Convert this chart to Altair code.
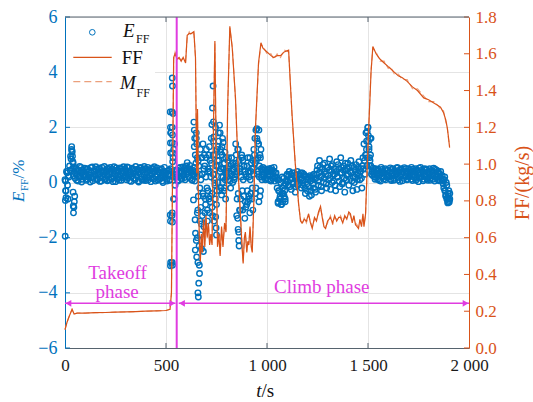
import altair as alt
import pandas as pd

# ---------------- data ----------------
E_STEP = 5  # s between successive E_FF samples in each band list
E_TAKEOFF_A = [  # t = 0 .. 595 s
    0.10, -0.30, 0.35, -0.60, 0.20, 0.45, 0.85, 1.10, 0.70, 0.40, 0.15, 0.50, 0.30, 0.05, 0.42, 0.22, 0.55, 0.12, 0.38, 0.27,
    0.33, 0.08, 0.50, 0.20, 0.44, 0.02, 0.35, 0.56, 0.15, 0.40, 0.25, 0.48, 0.10, 0.30, 0.52, 0.18, 0.05, 0.42, 0.28, 0.58,
    0.14, 0.38, 0.06, 0.47, 0.30, 0.55, 0.12, 0.35, 0.22, 0.45, 0.03, 0.53, 0.26, 0.40, 0.18, 0.50, 0.08, 0.33, 0.57, 0.20,
    0.43, 0.10, 0.30, 0.54, 0.06, 0.38, 0.22, 0.48, 0.15, 0.35, 0.58, 0.25, 0.45, 0.02, 0.32, 0.52, 0.12, 0.40, 0.27, 0.50,
    0.07, 0.35, 0.55, 0.18, 0.44, 0.03, 0.30, 0.50, 0.12, 0.40, 0.22, 0.53, 0.08, 0.36, 0.46, 0.15, 0.28, 0.00, 0.40, 0.20,
    0.35, 0.05, 0.25, 0.45, 0.10, 1.80, -1.20, 2.50, 0.30, -0.10, 0.20, 0.45, 0.05, 0.35, 0.55, 0.15, 0.40, 0.25, 0.50, 0.10,
]
E_TAKEOFF_B = [  # t = 2.5 .. 597.5 s
    0.05, 0.40, -0.10, 0.25, 0.60, 0.95, 1.20, 0.50, 0.25, 0.55, 0.32, 0.08, 0.45, 0.20, 0.58, 0.35, 0.02, 0.46, 0.24, 0.52,
    0.22, 0.47, 0.12, 0.38, 0.27, 0.54, 0.18, 0.06, 0.43, 0.30, 0.57, 0.14, 0.36, 0.48, 0.04, 0.40, 0.55, 0.20, 0.33, 0.10,
    0.45, 0.25, 0.52, 0.10, 0.40, 0.18, 0.48, 0.03, 0.57, 0.30, 0.37, 0.14, 0.44, 0.08, 0.53, 0.26, 0.42, 0.16, 0.36, 0.50,
    0.22, 0.56, 0.16, 0.40, 0.28, 0.04, 0.52, 0.34, 0.44, 0.10, 0.26, 0.48, 0.06, 0.38, 0.55, 0.20, 0.46, 0.08, 0.58, 0.14,
    0.48, 0.20, 0.10, 0.42, 0.25, 0.52, 0.16, 0.38, 0.57, 0.05, 0.46, 0.30, 0.40, 0.12, 0.22, 0.50, 0.06, 0.33, 0.55, 0.27,
    0.12, 0.42, 0.30, 0.08, 0.50, 0.40, 0.20, -0.60, 1.40, 0.45, 0.30, 0.08, 0.52, 0.22, 0.40, 0.12, 0.56, 0.30, 0.18, 0.45,
]
E_CLIMB_A = [  # t = 600 .. 1905 s
    0.60, 0.72, 0.38, 0.50, 0.15, 0.42, 0.08, 0.30, 0.55, 0.22, 1.60, -2.00, 0.80, -3.00, 1.20, -1.50, 0.30, -2.50, 1.00, -0.60,
    0.90, -1.00, 0.40, 1.30, -0.50, 0.70, -1.20, 1.50, 0.10, 2.00, -0.80, 0.60, 1.80, -0.30, 1.10, 0.20, 1.60, 0.50, -0.20, 0.90,
    0.40, 0.80, 0.10, 0.60, 0.30, 0.90, 0.00, 0.50, 0.20, 0.70, -1.20, 1.20, -1.80, 0.40, -0.60, 1.00, 0.80, -0.50, 0.40, -0.90,
    0.60, -0.70, 0.20, 0.90, -0.40, 0.50, -1.00, 0.30, 0.70, -0.20, 1.60, 0.40, 1.90, -0.50, 1.20, 0.10, 0.55, 0.30, 0.45, 0.15,
    0.40, 0.12, 0.50, 0.25, 0.05, 0.45, 0.30, 0.55, 0.18, 0.35, -0.20, -0.70, 0.10, -0.50, -0.80, 0.20, -0.40, -0.10, -0.60, 0.05,
    0.30, -0.10, 0.40, 0.10, -0.25, 0.35, 0.00, 0.25, -0.35, 0.15, 0.40, -0.05, 0.30, 0.10, -0.20, 0.35, 0.05, 0.25, -0.40, 0.10,
    -0.30, 0.20, -0.50, 0.05, -0.45, 0.25, -0.20, 0.10, -0.35, 0.30, 0.60, -0.10, 0.80, 0.20, -0.30, 0.50, 0.00, 0.70, 0.30, -0.20,
    0.55, 0.10, 0.85, -0.25, 0.40, 0.65, 0.05, 0.30, -0.30, 0.75, 0.20, 0.50, -0.15, 0.90, 0.35, 0.00, 0.60, -0.35, 0.45, 0.25,
    0.70, -0.10, 0.40, 0.80, 0.05, -0.30, 0.55, 0.20, 0.65, -0.25, 0.35, 0.75, 0.10, 0.50, -0.20, 0.90, 1.40, 0.30, 1.80, 0.60,
    2.00, 1.20, 0.80, 1.60, 0.40, 0.52, 0.30, 0.12, 0.45, 0.25, 0.48, 0.08, 0.35, 0.55, 0.20, 0.40, 0.14, 0.50, 0.30, 0.18,
    0.45, 0.25, 0.53, 0.07, 0.35, 0.50, 0.15, 0.40, 0.30, 0.55, 0.10, 0.45, 0.22, 0.50, 0.06, 0.35, 0.54, 0.25, 0.40, 0.12,
    0.50, 0.20, 0.35, 0.55, 0.07, 0.40, 0.25, 0.50, 0.15, 0.45, 0.03, 0.35, 0.55, 0.20, 0.40, 0.12, 0.50, 0.25, 0.45, 0.08,
    0.35, 0.50, 0.15, 0.40, 0.25, 0.52, 0.05, 0.30, 0.45, 0.10, 0.35, 0.20, 0.40, 0.05, 0.10, -0.20, 0.20, -0.45, -0.10, -0.70,
    -0.30, -0.60,
]
E_CLIMB_B = [  # t = 602.5 .. 1902.5 s
    0.30, 0.48, 0.20, 0.62, 0.35, 0.10, 0.45, 0.25, 0.05, 0.40, 0.20, -1.00, 0.60, -0.20, 0.10, 0.90, -0.40, 0.50, -1.10, 0.20,
    -0.20, 0.50, -0.60, 0.80, 0.20, -0.40, 1.00, 0.30, -0.10, 0.60, 1.20, 0.00, 0.80, 0.40, -0.20, 1.30, 0.20, 0.70, 0.10, 0.45,
    0.20, 0.50, 0.35, 0.05, 0.65, 0.25, 0.45, 0.10, 0.55, 0.30, 0.40, -0.40, 0.80, -1.00, 0.20, -0.30, 0.10, 0.60, -0.70, 0.20,
    -0.30, 0.40, -0.60, 0.10, 0.70, -0.20, 0.50, 1.00, -0.40, 0.80, 0.30, 1.40, 0.60, 0.90, 0.20, 0.45, 0.25, 0.50, 0.10, 0.35,
    0.25, 0.45, 0.08, 0.38, 0.52, 0.15, 0.42, 0.05, 0.33, 0.20, 0.10, -0.30, -0.60, 0.00, -0.40, -0.70, 0.15, -0.30, -0.05, 0.25,
    0.05, 0.25, -0.15, 0.30, 0.15, -0.05, 0.35, -0.15, 0.20, 0.05, -0.10, 0.25, 0.00, 0.35, 0.15, -0.10, 0.30, -0.20, 0.20, -0.05,
    0.10, -0.15, 0.25, -0.30, 0.15, -0.05, 0.30, -0.25, 0.15, 0.45, 0.05, 0.35, 0.55, -0.15, 0.25, 0.65, 0.15, 0.40, -0.05, 0.55,
    0.25, 0.45, 0.15, 0.60, 0.00, 0.30, 0.50, -0.10, 0.40, 0.20, 0.65, 0.05, 0.35, 0.55, -0.05, 0.45, 0.15, 0.70, 0.10, 0.50,
    0.30, 0.55, 0.15, 0.35, 0.60, 0.20, 0.00, 0.45, 0.30, 0.10, 0.55, 0.25, 0.40, 0.15, 0.60, 0.50, 0.80, 1.00, 1.20, 0.90,
    1.50, 0.60, 1.00, 0.30, 0.25, 0.40, 0.20, 0.50, 0.33, 0.12, 0.42, 0.28, 0.05, 0.38, 0.48, 0.22, 0.34, 0.10, 0.44, 0.27,
    0.20, 0.38, 0.12, 0.48, 0.24, 0.08, 0.42, 0.28, 0.52, 0.18, 0.36, 0.04, 0.46, 0.30, 0.40, 0.15, 0.22, 0.50, 0.10, 0.34,
    0.26, 0.44, 0.12, 0.32, 0.48, 0.20, 0.38, 0.08, 0.42, 0.28, 0.52, 0.16, 0.30, 0.45, 0.06, 0.36, 0.22, 0.48, 0.14, 0.38,
    0.22, 0.08, 0.44, 0.28, 0.12, 0.36, 0.48, 0.18, 0.26, 0.40, 0.06, 0.30, 0.15, 0.25, -0.05, 0.10, -0.30, 0.00, -0.55, -0.40,
    -0.65,
]
E_EXTRA = [  # scattered E_FF points (t, E)
    (1, -1.95), (2, -0.65), (3, -0.30), (5, -0.55), (33, 1.30), (35, 1.15), (37, 0.95), (39, 0.75),
    (41, -0.85), (42, -1.10), (44, -0.90), (46, -0.70), (48, -0.50), (40, -0.35),
    (521, 2.56), (522, 2.00), (523, 1.80), (522, 1.43), (523, 1.07), (521, -1.18), (522, -1.40), (523, -2.90), (522, -3.02),
    (531, 3.79), (532, 3.50), (530, 2.56), (531, 2.00), (532, 1.72), (531, 1.43), (532, 1.07), (533, 0.75),
    (531, -1.10), (532, -1.43), (531, -2.90), (532, -3.00), (535, 0.90), (538, 1.20), (540, -0.60),
    (638, 2.19), (640, 1.90), (642, 1.60), (640, 1.30), (645, 1.00), (648, 0.70), (650, 1.80), (652, 1.40), (655, 0.90),
    (636, -0.63), (644, -1.35), (646, -1.84), (650, -2.10), (645, -2.45), (652, -2.70), (658, -2.90), (666, -3.30),
    (662, -3.65), (658, -4.00), (660, -4.15), (664, -2.30), (670, -1.90), (668, -1.40), (672, -0.90), (676, -2.40),
    (680, -1.20), (684, -0.50), (688, -1.60), (692, 0.60), (696, -0.80), (700, 1.20), (676, 0.90), (683, 1.40),
    (660, -0.50), (655, -1.10), (666, 0.30),
    (705, -1.40), (708, -0.30), (712, 1.00), (715, -1.10), (718, 0.40), (720, -0.70), (724, 1.60), (727, 2.10),
    (730, 2.70), (733, 3.50), (735, 2.20), (737, 1.65), (740, 1.00), (742, -0.02), (744, -0.60), (746, -1.25),
    (748, -1.65), (750, -1.90), (752, -0.30), (755, 0.80), (758, 1.30), (733, 0.30), (728, -0.90), (738, -1.40),
    (762, 1.50), (765, 2.08), (768, 1.80), (770, 1.20), (772, 0.50), (775, -0.45), (778, 1.00), (780, 0.00),
    (783, 1.45), (786, -0.30), (789, 0.70), (792, 1.10), (795, -0.60), (798, 0.30),
    (810, 0.90), (820, -0.20), (830, 0.70),
    (845, 1.40), (847, 1.00), (850, 0.60), (852, -0.60), (855, -1.30), (857, -1.70), (860, -2.10), (862, -2.30),
    (858, 1.20), (864, -1.00), (868, 0.50),
    (875, 0.90), (880, -1.00), (885, 0.60), (890, -1.30), (895, 0.30), (900, -0.80), (905, 0.90), (910, -0.50),
    (915, -1.10), (920, 0.40), (925, -0.60), (930, 0.80),
    (935, 1.20), (940, 1.60), (945, 1.90), (950, 1.95), (952, 1.50), (955, 0.90), (958, 1.40), (960, -0.70),
    (962, 0.20), (965, 1.00), (968, -0.30), (972, 0.50),
    (1055, -0.75), (1060, -0.30), (1065, -0.60), (1072, -0.80), (1078, -0.20), (1085, -0.50), (1090, -0.70),
    (1490, 1.00), (1493, 1.50), (1496, 1.85), (1499, 2.00), (1502, 1.70), (1505, 1.30), (1508, 0.90), (1511, 1.60), (1514, 0.60),
    (1880, -0.30), (1885, -0.50), (1890, -0.60), (1895, -0.74), (1898, -0.50), (1902, -0.72), (1905, -0.40),
]
FF_POINTS = [  # (t, FF kg/s)
    (0, 0.10), (10, 0.14), (20, 0.17), (35, 0.21), (45, 0.185), (60, 0.19), (100, 0.19), (150, 0.192), (200, 0.193),
    (250, 0.195), (300, 0.196), (350, 0.198), (400, 0.200), (450, 0.202), (500, 0.204), (520, 0.21), (527, 0.30),
    (533, 1.00), (538, 1.58), (545, 1.60), (555, 1.57), (565, 1.58), (575, 1.56), (585, 1.58), (597, 1.55), (605, 1.70),
    (615, 1.71), (625, 1.71), (638, 1.72), (646, 1.58), (652, 0.95), (656, 1.30), (660, 0.85), (666, 0.55), (670, 0.47),
    (675, 0.62), (680, 0.52), (686, 0.70), (692, 0.55), (698, 0.72), (704, 0.60), (710, 0.68), (716, 0.56), (722, 0.62),
    (728, 0.56), (735, 1.20), (742, 1.67), (748, 1.10), (755, 0.55), (762, 0.62), (768, 0.50), (775, 0.66), (782, 0.55),
    (790, 0.68), (797, 0.63), (805, 1.30), (816, 1.75), (828, 1.63), (844, 1.36), (860, 0.90), (877, 0.54), (882, 0.46),
    (888, 0.60), (893, 0.63), (900, 0.52), (905, 0.58), (910, 0.56), (916, 0.66), (922, 0.55), (927, 0.52), (935, 0.80),
    (943, 1.20), (958, 1.55), (970, 1.66), (980, 1.63), (1000, 1.61), (1020, 1.59), (1033, 1.58), (1050, 1.59),
    (1067, 1.59), (1085, 1.61), (1107, 1.62), (1115, 1.45), (1124, 1.27), (1140, 1.00), (1157, 0.78), (1166, 0.69),
    (1174, 0.68), (1185, 0.70), (1195, 0.69), (1206, 0.73), (1215, 0.68), (1224, 0.65), (1235, 0.71), (1245, 0.69),
    (1255, 0.74), (1265, 0.77), (1275, 0.70), (1282, 0.66), (1290, 0.65), (1300, 0.69), (1314, 0.71), (1325, 0.68),
    (1335, 0.72), (1345, 0.69), (1355, 0.71), (1364, 0.71), (1375, 0.68), (1385, 0.72), (1395, 0.70), (1405, 0.74),
    (1413, 0.73), (1422, 0.68), (1430, 0.72), (1438, 0.67), (1446, 0.66), (1453, 0.65), (1460, 0.70), (1468, 0.66),
    (1475, 0.73), (1480, 0.66), (1488, 0.73), (1500, 1.10), (1515, 1.50), (1524, 1.64), (1540, 1.60), (1560, 1.57),
    (1580, 1.55), (1600, 1.53), (1611, 1.52), (1630, 1.50), (1650, 1.48), (1670, 1.47), (1694, 1.45), (1720, 1.42),
    (1745, 1.40), (1776, 1.36), (1800, 1.35), (1830, 1.33), (1859, 1.31), (1874, 1.28), (1885, 1.24), (1892, 1.20),
    (1898, 1.15), (1904, 1.09),
]
MFF_POINTS = [  # (t, M_FF kg/s)
    (0, 0.10), (10, 0.14), (20, 0.17), (35, 0.21), (45, 0.185), (60, 0.19), (100, 0.19), (150, 0.192), (200, 0.193),
    (250, 0.195), (300, 0.196), (350, 0.198), (400, 0.200), (450, 0.202), (500, 0.204), (520, 0.21), (527, 0.30),
    (533, 1.00), (538, 1.57), (545, 1.61), (555, 1.58), (565, 1.57), (575, 1.57), (585, 1.57), (597, 1.56), (605, 1.69),
    (615, 1.72), (625, 1.70), (638, 1.71), (646, 1.58), (652, 0.96), (656, 1.28), (660, 0.86), (666, 0.55), (670, 0.48),
    (675, 0.61), (680, 0.53), (686, 0.69), (692, 0.56), (698, 0.71), (704, 0.61), (710, 0.67), (716, 0.57), (722, 0.61),
    (728, 0.57), (735, 1.19), (742, 1.66), (748, 1.11), (755, 0.56), (762, 0.61), (768, 0.51), (775, 0.65), (782, 0.56),
    (790, 0.67), (797, 0.64), (805, 1.29), (816, 1.74), (828, 1.64), (844, 1.35), (860, 0.91), (877, 0.55), (882, 0.47),
    (888, 0.59), (893, 0.62), (900, 0.53), (905, 0.57), (910, 0.57), (916, 0.65), (922, 0.56), (927, 0.53), (935, 0.81),
    (943, 1.19), (958, 1.54), (970, 1.65), (980, 1.64), (1000, 1.60), (1020, 1.60), (1033, 1.57), (1050, 1.60),
    (1067, 1.58), (1085, 1.62), (1107, 1.61), (1115, 1.46), (1124, 1.26), (1140, 1.01), (1157, 0.77), (1166, 0.70),
    (1174, 0.67), (1185, 0.71), (1195, 0.68), (1206, 0.72), (1215, 0.69), (1224, 0.66), (1235, 0.70), (1245, 0.70),
    (1255, 0.73), (1265, 0.76), (1275, 0.71), (1282, 0.67), (1290, 0.66), (1300, 0.68), (1314, 0.72), (1325, 0.67),
    (1335, 0.71), (1345, 0.70), (1355, 0.70), (1364, 0.72), (1375, 0.69), (1385, 0.71), (1395, 0.71), (1405, 0.73),
    (1413, 0.72), (1422, 0.69), (1430, 0.71), (1438, 0.68), (1446, 0.67), (1453, 0.66), (1460, 0.69), (1468, 0.67),
    (1475, 0.72), (1480, 0.67), (1488, 0.72), (1500, 1.11), (1515, 1.51), (1524, 1.63), (1540, 1.61), (1560, 1.56),
    (1580, 1.56), (1600, 1.52), (1611, 1.53), (1630, 1.49), (1650, 1.49), (1670, 1.46), (1694, 1.46), (1720, 1.41),
    (1745, 1.41), (1776, 1.37), (1800, 1.34), (1830, 1.34), (1859, 1.30), (1874, 1.29), (1885, 1.23), (1892, 1.21),
    (1898, 1.14), (1904, 1.10),
]
X_TICKS = [0, 500, 1000, 1500, 2000]
LEFT_TICKS = [-6, -4, -2, 0, 2, 4, 6]
RIGHT_TICKS = [0.0, 0.2, 0.4, 0.6, 0.8, 1.0, 1.2, 1.4, 1.6, 1.8]
PHASE_SPLIT = 553          # s, boundary between takeoff and climb
ARROW_E = -4.38            # height of the phase arrows on the E axis
PHASE_TEXT = [  # (text, t, E)
    ("Takeoff", 260, -3.50), ("phase", 258, -4.19), ("Climb phase", 1271, -4.01),
]

# ---------------- style ----------------
W, H = 404, 331
SERIF = "Liberation Serif"
BLUE = "#0072BD"
ORANGE = "#D95319"
ORANGE_LIGHT = "#EBA07C"
MAG = "#E03CE0"
FRAME = "#56636E"
GRID = "#E4E4E4"
TICK_FS = 17

# ---------------- tables ----------------
e_t = ([i * E_STEP for i in range(len(E_TAKEOFF_A))]
       + [2.5 + i * E_STEP for i in range(len(E_TAKEOFF_B))]
       + [600 + i * E_STEP for i in range(len(E_CLIMB_A))]
       + [602.5 + i * E_STEP for i in range(len(E_CLIMB_B))])
e_v = E_TAKEOFF_A + E_TAKEOFF_B + E_CLIMB_A + E_CLIMB_B
scatter_df = pd.DataFrame({"t": e_t + [p[0] for p in E_EXTRA], "E": e_v + [p[1] for p in E_EXTRA]})
ff_df = pd.DataFrame(FF_POINTS, columns=["t", "FF"])
mff_df = pd.DataFrame(MFF_POINTS, columns=["t", "FF"])
ONE = pd.DataFrame({"_": [0]})

xs = alt.Scale(domain=[0, 2000], nice=False, zero=False)
yl = alt.Scale(domain=[-6, 6], nice=False, zero=False)
yr = alt.Scale(domain=[0, 1.8], nice=False, zero=False)

x_axis = alt.Axis(values=X_TICKS, title=None, ticks=False, labelPadding=9, labelFlush=False,
                  labelOverlap=False, labelFont=SERIF, labelFontSize=TICK_FS, labelColor="#1a1a1a",
                  labelExpr="datum.value >= 1000 ? replace(format(datum.value, ','), ',', ' ') : datum.label",
                  domainColor=FRAME, domainWidth=1, grid=True, gridColor=GRID, gridWidth=1)
yl_axis = alt.Axis(values=LEFT_TICKS, format="d", title=None, ticks=False, labelPadding=8, labelFlush=False,
                   labelOverlap=False, labelFont=SERIF, labelFontSize=18, labelColor=BLUE,
                   domainColor=BLUE, domainWidth=1, grid=True, gridColor=GRID, gridWidth=1)
yr_axis = alt.Axis(values=RIGHT_TICKS, format=".1f", orient="right", title=None, ticks=False, labelPadding=6,
                   labelFlush=False, labelOverlap=False, labelFont=SERIF, labelFontSize=TICK_FS,
                   labelColor=ORANGE, domainColor=ORANGE, domainWidth=1, grid=False)


def X(f):
    return alt.X(f, type="quantitative", scale=xs, axis=x_axis)


def YL(f):
    return alt.Y(f, type="quantitative", scale=yl, axis=yl_axis)


def YA(f):
    return alt.Y(f, type="quantitative", scale=yl, axis=None)


def label(text, x, y, size, color, italic=False, angle=0, align="left"):
    return alt.Chart(ONE).mark_text(
        text=text, font=SERIF, fontSize=size, color=color, fontStyle="italic" if italic else "normal",
        angle=angle, align=align, baseline="alphabetic"
    ).encode(x=alt.value(x), y=alt.value(y))


# ---------------- left (E_FF) group ----------------
scatter = alt.Chart(scatter_df).mark_point(filled=False, size=30, strokeWidth=1.4, color=BLUE, opacity=1).encode(
    x=X("t"), y=YL("E"))
lticks = alt.Chart(pd.DataFrame({"v": LEFT_TICKS})).mark_rule(color=BLUE, strokeWidth=1).encode(
    y=YL("v"), x=alt.value(0), x2=alt.value(5))
xt_df = pd.DataFrame({"t": X_TICKS[1:-1]})
bticks = alt.Chart(xt_df).mark_rule(color=FRAME, strokeWidth=1).encode(x=X("t"), y=alt.value(H), y2=alt.value(H - 5))
tticks = alt.Chart(xt_df).mark_rule(color=FRAME, strokeWidth=1).encode(x=X("t"), y=alt.value(0), y2=alt.value(5))
left = alt.layer(scatter, lticks, bticks, tticks)

# ---------------- right (FF) group ----------------
mff_line = alt.Chart(mff_df).mark_line(color=ORANGE_LIGHT, strokeWidth=1.1, strokeDash=[6, 3]).encode(
    x=X("t"), y=alt.Y("FF", type="quantitative", scale=yr, axis=yr_axis), order="t:Q")
ff_line = alt.Chart(ff_df).mark_line(color=ORANGE, strokeWidth=1.2).encode(
    x=X("t"), y=alt.Y("FF", type="quantitative", scale=yr, axis=yr_axis), order="t:Q")
rticks = alt.Chart(pd.DataFrame({"v": RIGHT_TICKS})).mark_rule(color=ORANGE, strokeWidth=1).encode(
    y=alt.Y("v", type="quantitative", scale=yr, axis=yr_axis), x=alt.value(W - 5), x2=alt.value(W))
right = alt.layer(mff_line, ff_line, rticks)

# ---------------- annotations ----------------
split = alt.Chart(pd.DataFrame({"t": [PHASE_SPLIT]})).mark_rule(color=MAG, strokeWidth=2).encode(
    x=X("t"), y=alt.value(0), y2=alt.value(H))
arrows_df = pd.DataFrame({"t1": [0, PHASE_SPLIT + 10], "t2": [PHASE_SPLIT - 6, 2000], "E": [ARROW_E, ARROW_E]})
arrow_lines = alt.Chart(arrows_df).mark_rule(color=MAG, strokeWidth=1.6).encode(
    x=X("t1"), x2="t2", y=YA("E"))
heads_r = alt.Chart(pd.DataFrame({"t": [PHASE_SPLIT - 22, 1983], "E": [ARROW_E, ARROW_E]})).mark_point(
    shape="triangle-right", filled=True, size=45, color=MAG, opacity=1).encode(x=X("t"), y=YA("E"))
heads_l = alt.Chart(pd.DataFrame({"t": [17, PHASE_SPLIT + 26], "E": [ARROW_E, ARROW_E]})).mark_point(
    shape="triangle-left", filled=True, size=45, color=MAG, opacity=1).encode(x=X("t"), y=YA("E"))
phase_txt = alt.Chart(pd.DataFrame(PHASE_TEXT, columns=["txt", "t", "E"])).mark_text(
    font=SERIF, fontSize=19, color=MAG, align="center", baseline="alphabetic").encode(
    x=X("t"), y=YA("E"), text="txt")
top_border = alt.Chart(ONE).mark_rule(color=FRAME, strokeWidth=1).encode(
    x=alt.value(0), x2=alt.value(W), y=alt.value(0))

# legend (drawn by hand to allow subscripts)
leg_bg = alt.Chart(ONE).mark_rect(color="white").encode(
    x=alt.value(1), x2=alt.value(90), y=alt.value(1), y2=alt.value(83))
leg_circle = alt.Chart(ONE).mark_point(filled=False, size=32, strokeWidth=1, color=BLUE, opacity=1).encode(
    x=alt.value(27.3), y=alt.value(15.3))
leg_solid = alt.Chart(ONE).mark_rule(color=ORANGE, strokeWidth=1.3).encode(
    x=alt.value(8.3), x2=alt.value(46.7), y=alt.value(40.3))
leg_dash = alt.Chart(ONE).mark_rule(color=ORANGE_LIGHT, strokeWidth=1.3, strokeDash=[7, 4]).encode(
    x=alt.value(8.3), x2=alt.value(46.7), y=alt.value(64.7))
legend = alt.layer(
    leg_bg, leg_circle, leg_solid, leg_dash,
    label("E", 58, 19.7, 19, "#111111", italic=True),
    label("FF", 71, 25.5, 12, "#111111"),
    label("FF", 56.7, 47, 19, "#111111"),
    label("M", 55, 72.3, 19, "#111111", italic=True),
    label("FF", 71.5, 79.5, 12, "#111111"),
)

titles = alt.layer(
    # left axis title  E_FF/%
    label("E", -41, 185, 17, BLUE, italic=True, angle=270),
    label("FF", -37, 174, 11, BLUE, angle=270),
    label("/%", -41, 161.5, 17, BLUE, angle=270),
    # right axis title
    label("FF/(kg/s)", 464, 166, 20, ORANGE, angle=270, align="center"),
    # x title  t/s
    label("t", 196.5, 380, 19, "#111111", italic=True, align="right"),
    label("/s", 196.5, 380, 19, "#111111"),
)

annot = alt.layer(split, arrow_lines, heads_r, heads_l, phase_txt, top_border, legend, titles)

chart = alt.layer(left, right, annot).resolve_scale(y="independent").properties(
    width=W, height=H,
    padding={"left": 65, "top": 17, "right": 64, "bottom": 54},
    autosize=alt.AutoSizeParams(type="none"),
    background="white",
).configure_view(stroke=None).configure_axis(labelFont=SERIF)

chart.save("out.html", embed_options={"renderer": "svg", "actions": False})
